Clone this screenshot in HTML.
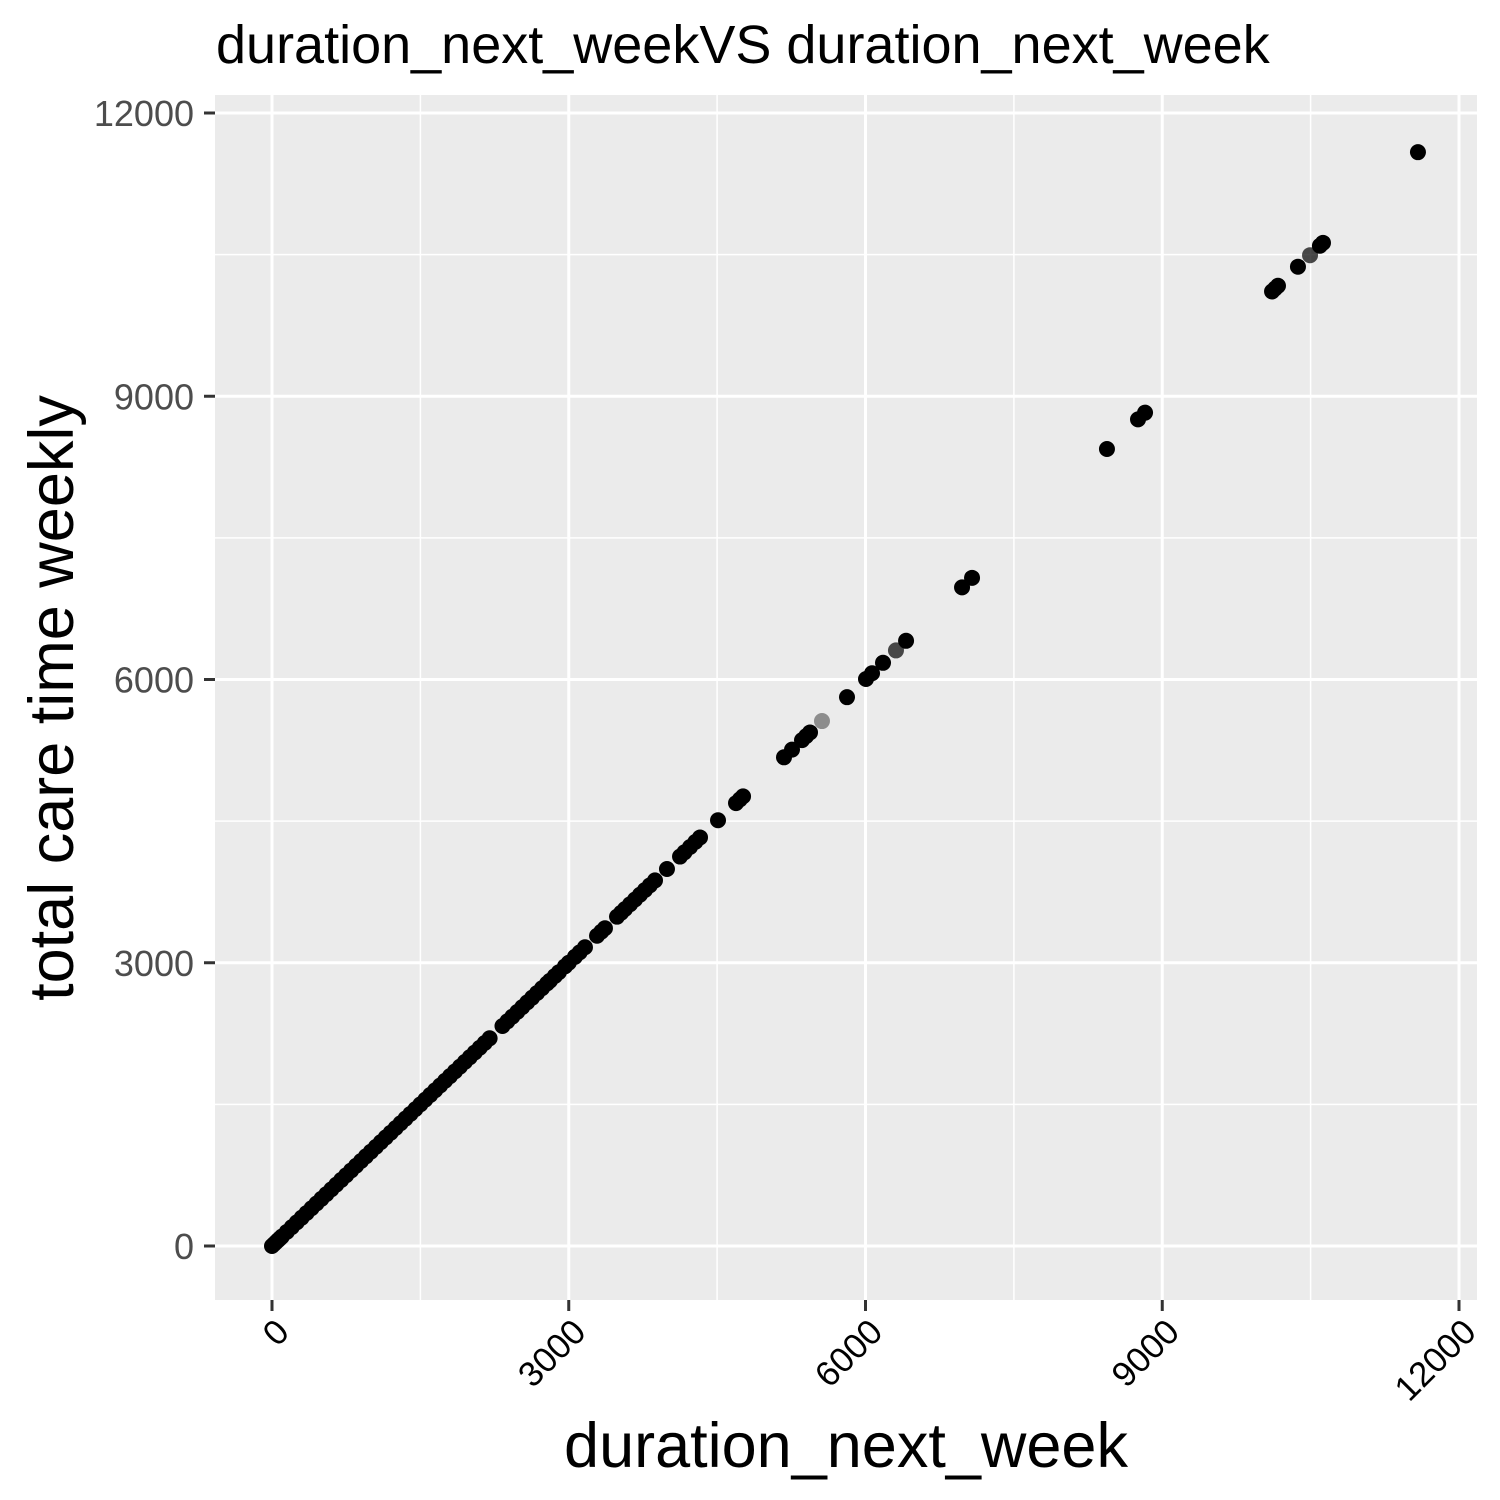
<!DOCTYPE html>
<html><head><meta charset="utf-8"><style>body{margin:0;background:#fff}svg{display:block}text{font-family:"Liberation Sans",Arial,sans-serif}</style></head>
<body>
<svg id="chart" width="1500" height="1500" viewBox="0 0 1500 1500">
<text x="216" y="63" font-size="54" fill="#000">duration_next_weekVS duration_next_week</text>
<rect x="215" y="95" width="1262" height="1205" fill="#ebebeb"/>
<g id="grid"></g>
<g id="points"></g>
<g id="axes"></g>
<text x="846" y="1467" font-size="63" text-anchor="middle" fill="#000">duration_next_week</text>
<text transform="translate(73,698) rotate(-90)" font-size="63" text-anchor="middle" fill="#000">total care time weekly</text>
</svg>
<script>
const xTicks=[0,3000,6000,9000,12000];
const yTicks=[0,3000,6000,9000,12000];
const xLabels=["0","3000","6000","9000","12000"];
const yLabels=["0","3000","6000","9000","12000"];
const denseX=[0,20,40,60,80,100,150,200,250,300,350,400,450,500,550,600,650,700,750,800,850,900,950,1000,1050,1100,1150,1200,1250,1300,1350,1400,1450,1500,1550,1600,1650,1700,1750,1800,1850,1900,1950,2000,2050,2100,2150,2200,2330,2380,2430,2480,2530,2580,2630,2680,2730,2780,2810,2860,2900,2962,3000,3063,3110,3164,3286,3330,3366,3488,3530,3569,3620,3670,3720,3771,3820,3872,3993,4125,4170,4226,4280,4327,4509,4691,4730,4762,5176,5257,5358,5400,5439,5813,6005,6066,6177,6410,6976,7077,8441,8755,8826,10110,10140,10170,10372,10594,10625,11585];
const denseY=[0,20,40,60,80,100,150,200,250,300,350,400,450,500,550,600,650,700,750,800,850,900,950,1000,1050,1100,1150,1200,1250,1300,1350,1400,1450,1500,1550,1600,1650,1700,1750,1800,1850,1900,1950,2000,2050,2100,2150,2200,2330,2380,2430,2480,2530,2580,2630,2680,2730,2780,2810,2860,2900,2962,3000,3063,3110,3164,3286,3330,3366,3488,3530,3569,3620,3670,3720,3771,3820,3872,3993,4125,4170,4226,4280,4327,4509,4691,4730,4762,5176,5257,5358,5400,5439,5813,6005,6066,6177,6410,6976,7077,8441,8755,8826,10110,10140,10170,10372,10594,10625,11585];
const grayX=[5560,6308,10494];
const grayY=[5560,6308,10494];
const grayA=[0.4,0.7,0.7];
const NS="http://www.w3.org/2000/svg";
const sx=v=>272+v*(1459-272)/12000;
const sy=v=>1246-v*(1246-113)/12000;
const grid=document.getElementById('grid'),pts=document.getElementById('points'),ax=document.getElementById('axes');
function mk(tag,attrs,parent){const e=document.createElementNS(NS,tag);for(const k in attrs)e.setAttribute(k,attrs[k]);parent.appendChild(e);return e;}
for(let i=0;i<xTicks.length-1;i++){const m=(xTicks[i]+xTicks[i+1])/2;
const l=mk('line',{x1:sx(m),x2:sx(m),y1:95,y2:1300,stroke:'#fff','stroke-width':1.5},grid);


const m2=(yTicks[i]+yTicks[i+1])/2;
const l2=mk('line',{x1:215,x2:1477,y1:sy(m2),y2:sy(m2),stroke:'#fff','stroke-width':1.5},grid);

}
xTicks.forEach((t,i)=>{const l=mk('line',{x1:sx(t),x2:sx(t),y1:95,y2:1300,stroke:'#fff','stroke-width':3},grid);


const tk=mk('line',{x1:sx(t),x2:sx(t),y1:1300,y2:1311,stroke:'#333','stroke-width':3},ax);


const tx=mk('text',{transform:`translate(${sx(t)+19},${1334}) rotate(-45)`,'text-anchor':'end','font-size':35,fill:'#000'},ax);
tx.textContent=xLabels[i];

});
yTicks.forEach((t,i)=>{const l=mk('line',{x1:215,x2:1477,y1:sy(t),y2:sy(t),stroke:'#fff','stroke-width':3},grid);


const tk=mk('line',{x1:204,x2:215,y1:sy(t),y2:sy(t),stroke:'#333','stroke-width':3},ax);


const tx=mk('text',{x:194,y:sy(t)+13,'text-anchor':'end','font-size':36,fill:'#4d4d4d'},ax);
tx.textContent=yLabels[i];

});
denseX.forEach((v,i)=>{const c=mk('circle',{cx:sx(v),cy:sy(denseY[i]),r:8,fill:'#000'},pts);

});
grayX.forEach((v,i)=>{const c=mk('circle',{cx:sx(v),cy:sy(grayY[i]),r:8,fill:'#000','fill-opacity':grayA[i]},pts);

});
</script>
</body></html>
